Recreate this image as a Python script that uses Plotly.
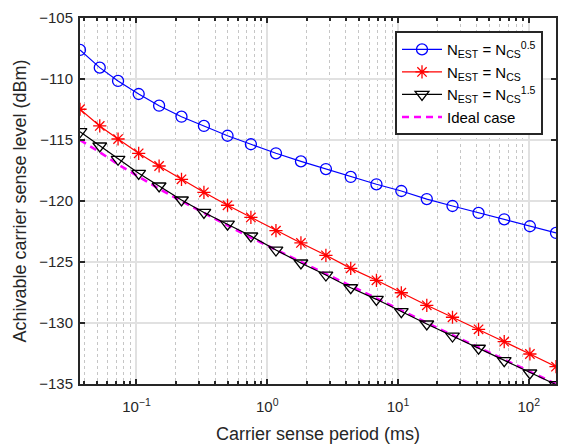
import numpy as np
import plotly.graph_objects as go

# Carrier sense period (ms)
period = [0.0370, 0.0524, 0.0723, 0.104, 0.149, 0.221, 0.328, 0.497, 0.750, 1.166,
          1.81, 2.81, 4.35, 6.84, 10.6, 16.6, 26.1, 41.3, 64.9, 102.0, 161.5]

level_n05 = [-107.62, -109.07, -110.16, -111.23, -112.19, -113.09, -113.85, -114.65,
             -115.35, -116.09, -116.75, -117.38, -118.03, -118.63, -119.18, -119.84,
             -120.41, -120.98, -121.50, -122.07, -122.62]
level_n10 = [-112.48, -113.85, -114.92, -116.09, -117.13, -118.22, -119.29, -120.35,
             -121.35, -122.43, -123.44, -124.45, -125.52, -126.50, -127.52, -128.55,
             -129.53, -130.52, -131.53, -132.54, -133.58]
level_n15 = [-114.32, -115.49, -116.58, -117.73, -118.77, -119.92, -120.94, -121.89,
             -122.87, -124.02, -125.08, -126.07, -127.11, -128.06, -129.07, -130.08,
             -131.07, -132.07, -133.09, -134.10, -135.05]
level_ideal = [-115, -116, -117, -118, -119, -120, -121, -122, -123, -124, -125,
               -126, -127, -128, -129, -130, -131, -132, -133, -134, -135]

names = ["N<sub>EST</sub> = N<sub>CS</sub><sup>0.5</sup>",
         "N<sub>EST</sub> = N<sub>CS</sub>",
         "N<sub>EST</sub> = N<sub>CS</sub><sup>1.5</sup>",
         "Ideal case"]

xtick_vals = [0.1, 1, 10, 100]
xtick_text = ["10<sup>\u22121</sup>", "10<sup>0</sup>", "10<sup>1</sup>", "10<sup>2</sup>"]
ytick_vals = [-135, -130, -125, -120, -115, -110, -105]
minor_vals = [m * 10.0 ** k for k in range(-2, 3) for m in range(2, 10)]

FONT = "Liberation Sans, Arial"
fig = go.Figure()
fig.add_trace(go.Scatter(x=period, y=level_n05, name=names[0], mode="lines+markers",
                         line=dict(color="#0000ff", width=1.2),
                         marker=dict(symbol="circle-open", size=11, color="#0000ff",
                                     line=dict(width=1.3, color="#0000ff"))))
fig.add_trace(go.Scatter(x=period, y=level_n10, name=names[1], mode="lines+markers",
                         line=dict(color="#ff0000", width=1.2),
                         marker=dict(symbol="asterisk-open", size=11, color="#ff0000",
                                     line=dict(width=1.3, color="#ff0000"))))
fig.add_trace(go.Scatter(x=period, y=level_ideal, name=names[3], mode="lines",
                         line=dict(color="#ff00ff", width=2.6, dash="7px,5px"),
                         showlegend=False))
fig.add_trace(go.Scatter(x=period, y=level_n15, name=names[2], mode="lines+markers",
                         line=dict(color="#000000", width=1.2),
                         marker=dict(symbol="triangle-down-open", size=12, color="#000000",
                                     line=dict(width=1.3, color="#000000"))))
fig.add_trace(go.Scatter(x=[None], y=[None], name=names[3], mode="lines",
                         line=dict(color="#ff00ff", width=2.6, dash="7px,5px")))

axis_col = "#262626"
fig.update_xaxes(type="log", automargin=False,
                 range=[np.log10(min(period)), np.log10(max(period))],
                 tickmode="array", tickvals=xtick_vals, ticktext=xtick_text,
                 ticks="inside", ticklen=5, tickwidth=1.5, tickcolor=axis_col,
                 ticklabelstandoff=8,
                 showline=True, linecolor=axis_col, linewidth=2, mirror="ticks",
                 showgrid=True, gridcolor="#e1e1e1", gridwidth=2,
                 minor=dict(tickmode="array", tickvals=minor_vals, ticks="inside",
                            ticklen=3, tickwidth=1.5, tickcolor=axis_col,
                            showgrid=True, gridcolor="#c6c6c6", griddash="dot",
                            gridwidth=1.2),
                 zeroline=False,
                 tickfont=dict(family=FONT, size=15, color=axis_col),
                 title=dict(text="Carrier sense period (ms)", standoff=14,
                            font=dict(family=FONT, size=18, color=axis_col)))
fig.update_yaxes(range=[-135, -105], tickmode="array", tickvals=ytick_vals,
                 automargin=False,
                 ticks="inside", ticklen=5, tickwidth=1.5, tickcolor=axis_col,
                 ticklabelstandoff=2,
                 showline=True, linecolor=axis_col, linewidth=2, mirror="ticks",
                 showgrid=True, gridcolor="#e1e1e1", gridwidth=2, zeroline=False,
                 tickfont=dict(family=FONT, size=15, color=axis_col),
                 title=dict(text="Achivable carrier sense level (dBm)", standoff=8,
                            font=dict(family=FONT, size=18, color=axis_col)))

fig.update_layout(
    width=570, height=444,
    margin=dict(l=80, r=14, t=18, b=60),
    paper_bgcolor="white", plot_bgcolor="white",
    showlegend=True,
    legend=dict(x=0.9727, y=0.964, xanchor="right", yanchor="top",
                bgcolor="white", bordercolor="#262626", borderwidth=2,
                font=dict(family=FONT, size=15, color="black"),
                tracegroupgap=0, itemwidth=40),
)

fig.write_html("out.html")
